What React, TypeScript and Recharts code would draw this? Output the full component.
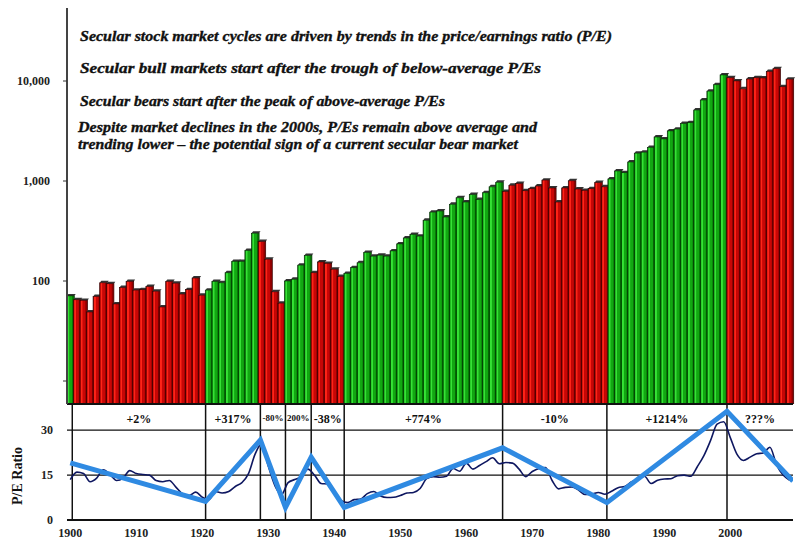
import React from "react";
import {
  BarChart,
  Bar,
  XAxis,
  YAxis,
  ComposedChart,
  Line,
  ReferenceLine,
  ReferenceArea,
} from "recharts";

// Dow Jones index, one value per year 1900-2009
const firstYear = 1900;
const dowValues = [
  71, 65, 64, 49, 70, 96, 94, 59, 86, 99,
  81, 82, 88, 79, 55, 99, 95, 74, 82, 107,
  72, 81, 99, 96, 121, 157, 157, 202, 300, 248,
  165, 78, 60, 100, 104, 144, 180, 121, 155, 150,
  131, 111, 119, 136, 152, 193, 177, 181, 177, 200,
  235, 269, 292, 281, 404, 488, 500, 436, 584, 679,
  616, 731, 652, 763, 874, 969, 786, 905, 944, 800,
  839, 890, 1020, 851, 616, 852, 1005, 831, 805, 839,
  964, 875, 1047, 1259, 1212, 1547, 1896, 1939, 2169, 2753,
  2634, 3169, 3301, 3754, 3834, 5117, 6448, 7908, 9181, 11497,
  10787, 10022, 8342, 10454, 10783, 10718, 12463, 13265, 8776, 10428,
];

// P/E ratio, one value per year 1900-2009
const peValues = [
  13.5, 16, 15.5, 12.8, 14, 16.8, 15.2, 13.2, 14, 16.5,
  15.5, 15.2, 15, 13.2, 12.8, 13.2, 11, 8.8, 8.2, 9.3,
  7.6, 6.8, 9.5, 9, 9.5, 11.2, 12.5, 15.5, 22, 25.5,
  18, 11.5, 8.5, 12.5, 13.5, 14.5, 17, 15, 12.2, 12,
  9.8, 6.5, 5.8, 6.8, 7, 8.8, 9.5, 8, 7.5, 7.6,
  8.2, 9, 9.2, 10.5, 13.8, 14.5, 14.3, 14.6, 17.2, 16.3,
  19, 17, 18.2, 19.5, 20.8, 18.8, 19.2, 19, 17, 14.5,
  16.2, 17.2, 17.5, 13.2, 10.4, 10.9, 11, 10, 8.5, 8.6,
  9.2, 8.6, 9.6, 10.8, 11.2, 12.7, 13.6, 14.6, 12.2, 13.3,
  13.7, 13.8, 14.8, 15, 14.6, 17.8, 21.5, 26.5, 32, 32.8,
  27.5, 22, 19.9, 21, 22.1, 22.4, 24.3, 18.5, 15, 13.3,
];

// secular bull / bear periods (first year of each)
const eraStarts = [1900, 1901, 1921, 1929, 1933, 1937, 1942, 1966, 1982, 2000];
const eraKinds = ["bull", "bear", "bull", "bear", "bull", "bear", "bull", "bear", "bull", "bear"];

// P/E panel dividers and the return of each secular period
const dividerYears = [1900.3, 1920.5, 1928.8, 1932.6, 1936.5, 1941.5, 1965.5, 1981.3, 1999.5];
const eraEnd = 2009.5;
const eraReturns = ["+2%", "+317%", "-80%", "200%", "-38%", "+774%", "-10%", "+1214%", "???%"];

// thick P/E trend line
const trendYears = [1900, 1920.5, 1928.8, 1932.6, 1936.5, 1941.5, 1965.5, 1981.3, 1999.5, 2009.5];
const trendValues = [19.1, 6.2, 26.7, 4.2, 21, 4.2, 24.1, 5.8, 36.3, 13];

const headerLines = [
  "Secular stock market cycles are driven by trends in the price/earnings ratio (P/E)",
  "Secular bull markets start after the trough of below-average P/Es",
  "Secular bears start after the peak of above-average P/Es",
  "Despite market declines in the 2000s, P/Es remain above average and",
  "trending lower \u2013 the potential sign of a current secular bear market",
];

const logTicks = [10, 100, 1000, 10000];
const peTicks = [0, 15, 30];
const decadeTicks = [1900, 1910, 1920, 1930, 1940, 1950, 1960, 1970, 1980, 1990, 2000];

const SERIF = "'Liberation Serif', 'Times New Roman', serif";

const kindOf = (year: number) => {
  let k = eraKinds[0];
  eraStarts.forEach((s, i) => {
    if (year >= s) k = eraKinds[i];
  });
  return k;
};

const barData = dowValues.map((v, i) => ({
  year: firstYear + i,
  dow: v,
  kind: kindOf(firstYear + i),
}));
const peData = peValues.map((v, i) => ({ year: firstYear + i, pe: v }));
const trendData = trendYears.map((y, i) => ({ year: y, trend: trendValues[i] }));

const COLORS: Record<string, { light: string; mid: string; dark: string; edge: string }> = {
  bull: { light: "#36e236", mid: "#12a812", dark: "#067806", edge: "#033003" },
  bear: { light: "#ff2418", mid: "#c80606", dark: "#8e0000", edge: "#360000" },
};

function Bar3D(props: any) {
  const { x, y, width, height, payload } = props;
  if (!height || height <= 0) return null;
  const c = COLORS[payload.kind];
  const w = width + 0.6;
  const bx = x - 0.3;
  return (
    <g>
      <polygon
        points={`${bx},${y} ${bx + 1.6},${y - 2} ${bx + w + 1.4},${y - 2} ${bx + w},${y}`}
        fill="#333"
      />
      <rect x={bx} y={y} width={w} height={height} fill={c.dark} stroke={c.edge} strokeWidth={0.7} />
      <rect x={bx + 0.9} y={y + 0.4} width={w * 0.26} height={height - 0.4} fill={c.light} />
      <rect x={bx + 0.9 + w * 0.26} y={y + 0.4} width={w * 0.34} height={height - 0.4} fill={c.mid} />
    </g>
  );
}

function LogTick({ x, y, payload }: any) {
  if (payload.value < 100) return <g />;
  return (
    <text
      x={x}
      y={y}
      dy={4}
      textAnchor="end"
      fontFamily={SERIF}
      fontWeight="bold"
      fontSize={12}
      fill="#222"
    >
      {payload.value.toLocaleString("en-US")}
    </text>
  );
}

const headerPos = [
  { x: 80, y: 41, w: 532 },
  { x: 80, y: 73, w: 461 },
  { x: 80, y: 106, w: 365 },
  { x: 78, y: 132, w: 459 },
  { x: 78, y: 149, w: 440 },
];

export default function App() {
  return (
    <div
      style={{
        position: "absolute",
        left: 0,
        top: 0,
        width: 797,
        height: 544,
        background: "#fff",
        overflow: "hidden",
      }}
    >
      <div style={{ position: "absolute", left: 0, top: 0 }}>
        <BarChart
          width={797}
          height={405}
          data={barData}
          margin={{ top: 8, right: 4, bottom: 0, left: 0 }}
          barCategoryGap={0}
          barGap={0}
        >
          <XAxis
            dataKey="year"
            height={1}
            tick={false}
            tickLine={false}
            axisLine={{ stroke: "#111", strokeWidth: 2 }}
          />
          <YAxis
            type="number"
            scale="log"
            domain={[5.89, 53700]}
            allowDataOverflow
            ticks={logTicks}
            width={67}
            tickSize={4}
            tickMargin={13}
            tick={<LogTick />}
            tickLine={{ stroke: "#333" }}
            axisLine={{ stroke: "#444", strokeWidth: 2 }}
          />
          <Bar dataKey="dow" shape={<Bar3D />} isAnimationActive={false} />
        </BarChart>
      </div>

      <div style={{ position: "absolute", left: 0, top: 380 }}>
        <ComposedChart width={797} height={164} margin={{ top: 24, right: 4, bottom: 0, left: 0 }}>
          <XAxis
            type="number"
            dataKey="year"
            domain={[1899.5, 2009.5]}
            allowDataOverflow
            ticks={decadeTicks}
            height={24}
            tickSize={0}
            tickMargin={8}
            tickLine={false}
            axisLine={{ stroke: "#111", strokeWidth: 2 }}
            tick={{ fontFamily: SERIF, fontWeight: "bold", fontSize: 12, fill: "#222" }}
          />
          <YAxis
            type="number"
            domain={[0, 38.75]}
            allowDataOverflow
            ticks={peTicks}
            width={67}
            tickSize={0}
            tickMargin={14}
            tickLine={false}
            axisLine={false}
            tick={{ fontFamily: SERIF, fontWeight: "bold", fontSize: 12, fill: "#222" }}
          />
          <ReferenceLine y={15} stroke="#111" strokeWidth={1.2} />
          <ReferenceLine y={30} stroke="#111" strokeWidth={1.2} />
          {dividerYears.map((d) => (
            <ReferenceLine key={d} x={d} stroke="#111" strokeWidth={1.5} />
          ))}
          {eraReturns.map((r, i) => {
            const small = r === "-80%" || r === "200%";
            return (
              <ReferenceArea
                key={r}
                x1={dividerYears[i]}
                x2={i + 1 < dividerYears.length ? dividerYears[i + 1] : eraEnd}
                fillOpacity={0}
                stroke="none"
                label={{
                  value: r,
                  position: "insideTop",
                  offset: small ? 11 : 10,
                  fill: "#111",
                  fontFamily: SERIF,
                  fontWeight: "bold",
                  fontSize: small ? 9 : 12,
                }}
              />
            );
          })}
          <Line
            data={peData}
            dataKey="pe"
            type="monotone"
            stroke="#0e1760"
            strokeWidth={1.6}
            dot={false}
            isAnimationActive={false}
          />
          <Line
            data={trendData}
            dataKey="trend"
            type="linear"
            stroke="#2f8ae2"
            strokeWidth={5}
            dot={false}
            isAnimationActive={false}
          />
        </ComposedChart>
      </div>

      <svg
        width={797}
        height={544}
        style={{ position: "absolute", left: 0, top: 0, pointerEvents: "none" }}
      >
        {headerLines.map((t, i) => (
          <text
            key={i}
            x={headerPos[i].x}
            y={headerPos[i].y}
            textLength={headerPos[i].w}
            lengthAdjust="spacingAndGlyphs"
            fontFamily={SERIF}
            fontStyle="italic"
            fontWeight="bold"
            fontSize={14.5}
            fill="#111"
            stroke="#111"
            strokeWidth={0.35}
          >
            {t}
          </text>
        ))}
        <text
          transform="translate(22,476) rotate(-90)"
          textAnchor="middle"
          fontFamily={SERIF}
          fontWeight="bold"
          fontSize={14}
          fill="#111"
        >
          P/E Ratio
        </text>
      </svg>
    </div>
  );
}
